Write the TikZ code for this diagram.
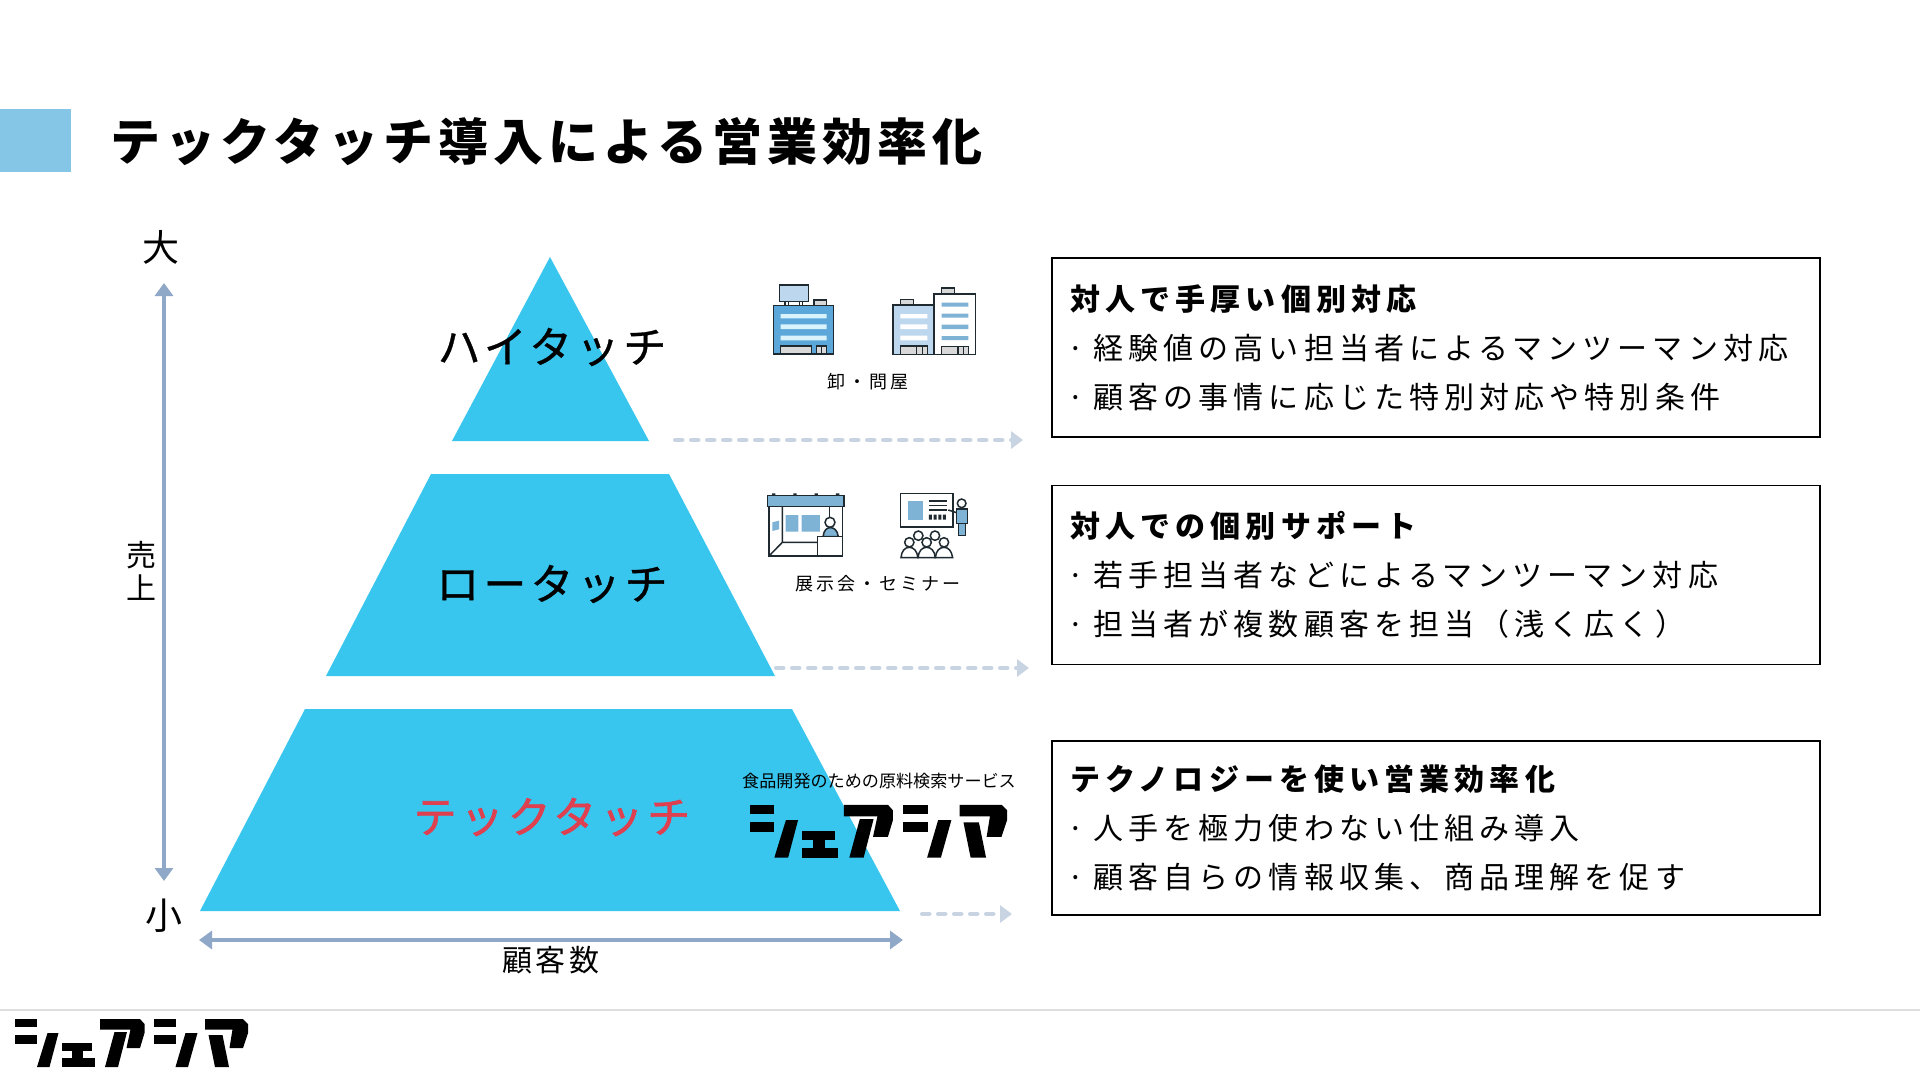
\documentclass[tikz,border=0pt]{standalone}
\usepackage{fontspec}
\usetikzlibrary{arrows.meta}
\setmainfont{Noto Sans CJK JP}
\newcommand{\lsp}[1]{\addfontfeature{LetterSpace=#1}}
\newcommand{\bul}{\makebox[10pt][c]{·}\hspace{13pt}}
\definecolor{pyrblue}{HTML}{38C6EF}
\definecolor{sqblue}{HTML}{85C5E6}
\definecolor{axisc}{HTML}{8FA8C8}
\definecolor{dashc}{HTML}{C9D4E3}
\definecolor{techred}{HTML}{DF4050}
\definecolor{icblue}{HTML}{5BA7D9}
\definecolor{icmid}{HTML}{7FB3D5}
\definecolor{iclight}{HTML}{BDD7EE}
\definecolor{icgray}{HTML}{D8D8D8}
\definecolor{icline}{HTML}{1E2A30}
\newcommand{\logoshape}{%
  \fill (15,1019) rectangle (37,1027);
  \fill (15,1035) rectangle (37,1044);
  \fill (47.5,1033) -- (58.5,1033) -- (49.5,1067) -- (37,1067) -- cycle;
  \fill (62,1043) rectangle (92,1051);
  \fill (72,1051) rectangle (83,1058);
  \fill (62,1058) rectangle (95,1067);
  \fill (100,1019) -- (140,1019) -- (144.5,1024) -- (144.5,1033) -- (140,1048) -- (126.5,1048) -- (130.5,1029.5) -- (100,1029.5) -- cycle;
  \fill (114.5,1032) -- (127,1032) -- (118,1067) -- (105,1067) -- cycle;
  \fill (154,1019) rectangle (176,1027);
  \fill (154,1035) rectangle (176,1044);
  \fill (185.5,1033) -- (197.5,1033) -- (188,1067) -- (175.5,1067) -- cycle;
  \fill (205,1019) -- (243,1019) -- (248,1024) -- (248,1033) -- (243,1048) -- (229.5,1048) -- (232.5,1029.5) -- (205,1029.5) -- cycle;
  \fill (208.5,1035) -- (222.5,1035) -- (229,1067) -- (215,1067) -- cycle;
}
\tikzset{
  pyr/.style={fill=pyrblue},
  infobox/.style={draw=black,line width=1.4pt,minimum width=768pt,text width=731pt,inner xsep=18.5pt,align=left,font={\fontsize{30}{49}\selectfont\lsp{17}}},
  tierlabel/.style={font={\fontsize{43}{48}\selectfont\addfontfeature{LetterSpace=9.5,FakeBold=0.7}}},
  techlabel/.style={font={\fontsize{43}{48}\selectfont\addfontfeature{LetterSpace=9.5,FakeBold=1.6}}},
  caption/.style={font={\fontsize{18}{22}\selectfont\lsp{17}}},
  axislabel/.style={font={\fontsize{37}{44}\selectfont}},
  axisarrow/.style={draw=axisc,line width=4.5pt,{Triangle[length=13pt,width=18pt]}-{Triangle[length=13pt,width=18pt]}},
  dasharrow/.style={draw=dashc,line width=4pt,line cap=round,dash pattern=on 7.5pt off 8.5pt,-{Triangle[length=12pt,width=17pt]}},
  ic/.style={draw=icline,line width=1.5pt},
}
\begin{document}
\begin{tikzpicture}[x=1pt,y=-1pt]
\useasboundingbox (0,0) rectangle (1920,1080);
\fill[white] (0,0) rectangle (1920,1080);
% header
\fill[sqblue] (0,109) rectangle (71,172);
\node[anchor=west,inner sep=0pt,font={\fontsize{50}{60}\selectfont\bfseries\lsp{10}}] (title) at (110.5,142) {テックタッチ導入による営業効率化};
% pyramid
\fill[pyr] (550,257) -- (649,441) -- (452,441) -- cycle;
\fill[pyr] (431,474) -- (669,474) -- (775,676) -- (326,676) -- cycle;
\fill[pyr] (305,709) -- (792,709) -- (900,911) -- (200,911) -- cycle;
\node[tierlabel] (hi) at (552,347) {ハイタッチ};
\node[tierlabel] (lo) at (552,584) {ロータッチ};
\node[techlabel,text=techred] (tech) at (552,817) {テックタッチ};
% axes
\coordinate (ytop) at (164,283);
\coordinate (ybot) at (164,881);
\coordinate (xl) at (199,940);
\coordinate (xr) at (903,940);
\draw[axisarrow] (ytop) -- (ybot);
\draw[axisarrow] (xl) -- (xr);
\node[axislabel] (big) at (161,247) {大};
\node[axislabel] (small) at (164,916) {小};
\node[font={\fontsize{30}{33}\selectfont},align=center] (sales) at (141,571) {売\\上};
\node[font={\fontsize{30}{36}\selectfont\lsp{11}}] (cust) at (551,960) {顧客数};
% dashed arrows
\coordinate (d1a) at (675,440);
\coordinate (d1b) at (1023,440);
\coordinate (d2a) at (776,668);
\coordinate (d2b) at (1029,668);
\coordinate (d3a) at (922,914);
\coordinate (d3b) at (1012,914);
\draw[dasharrow] (d1a) -- (d1b);
\draw[dasharrow] (d2a) -- (d2b);
\draw[dasharrow] (d3a) -- (d3b);
% boxes
\node[infobox,minimum height=179pt] (b1) at (1436,347.5) {\textbf{対人で手厚い個別対応}\\\bul 経験値の高い担当者によるマンツーマン対応\\\bul 顧客の事情に応じた特別対応や特別条件};
\node[infobox,minimum height=179pt] (b2) at (1436,575) {\textbf{対人での個別サポート}\\\bul 若手担当者などによるマンツーマン対応\\\bul 担当者が複数顧客を担当（浅く広く）};
\node[infobox,minimum height=174pt] (b3) at (1436,828) {\textbf{テクノロジーを使い営業効率化}\\\bul 人手を極力使わない仕組み導入\\\bul 顧客自らの情報収集、商品理解を促す};
% captions
\node[caption] (c1) at (868,382) {卸・問屋};
\node[caption] (c2) at (878,584) {展示会・セミナー};
\node[font={\fontsize{17.1}{20}\selectfont}] (c3) at (879,781) {食品開発のための原料検索サービス};
% building icons
\begin{scope}[shift={(720,260)},x=0.3333pt,y=-0.3333pt]
  \filldraw[ic,fill=iclight] (178,75) rectangle (265,125);
  \draw[ic] (195,125) -- (195,137) (205,125) -- (205,137) (238,125) -- (238,137) (248,125) -- (248,137);
  \filldraw[ic,fill=icgray] (282,120) rectangle (320,137);
  \filldraw[ic,fill=icblue] (160,137) rectangle (341,282);
  \fill[white!85!cyan] (182,162) rectangle (320,175) (182,193) rectangle (320,207) (182,227) rectangle (320,241);
  \filldraw[ic,fill=icgray] (182,258) rectangle (275,282);
  \filldraw[ic,fill=icgray] (290,258) rectangle (320,282);
  \draw[ic] (305,258) -- (305,282);
  \filldraw[ic,fill=icgray] (541,118) rectangle (580,135);
  \filldraw[ic,fill=iclight] (519,135) rectangle (642,283);
  \fill[white] (541,162) rectangle (622,175) (541,193) rectangle (622,207) (541,227) rectangle (622,241);
  \filldraw[ic,fill=icgray] (541,258) rectangle (623,283);
  \draw[ic] (590,258) -- (590,283) (607,258) -- (607,283);
  \filldraw[ic,fill=icgray] (665,84) rectangle (704,102);
  \filldraw[ic,fill=white] (642,102) rectangle (767,283);
  \fill[icmid] (665,128) rectangle (745,140) (665,161) rectangle (745,173) (665,194) rectangle (745,207) (665,228) rectangle (745,240);
  \filldraw[ic,fill=icgray] (665,260) rectangle (745,283);
  \draw[ic] (714,260) -- (714,283) (730,260) -- (730,283);
\end{scope}
% booth and seminar icons
\begin{scope}[shift={(720,470)},x=0.3333pt,y=-0.3333pt]
  \fill[icline] (156,70) rectangle (166,76) (220,70) rectangle (230,76) (284,70) rectangle (294,76) (348,70) rectangle (358,76);
  \draw[ic] (147,110) -- (147,258) -- (367,258) -- (367,110);
  \draw[ic] (187,110) -- (187,217) -- (293,217) (147,258) -- (187,217);
  \fill[icmid] (197,135) rectangle (235,185) (245,135) rectangle (300,185);
  \fill[icmid] (157,157) -- (177,152) -- (177,178) -- (157,183) -- cycle;
  \filldraw[ic,fill=icmid] (142,76) rectangle (372,110);
  \draw[ic] (328,110) -- (328,142);
  \filldraw[ic,fill=white] (330,157) circle[radius=15];
  \filldraw[ic,fill=icmid] (309,200) .. controls (312,180) and (320,173) .. (331,173) .. controls (342,173) and (352,180) .. (355,200) -- cycle;
  \filldraw[ic,fill=white] (293,200) rectangle (367,258);
  % seminar
  \filldraw[ic,fill=white] (541,70) rectangle (699,171);
  \fill[icmid] (564,93) rectangle (610,149);
  \draw[ic] (627,93) -- (680,93) (627,107) -- (680,107) (627,120) -- (680,120);
  \fill[icline] (627,134) rectangle (636,149) (641,134) rectangle (650,149) (655,134) rectangle (664,149) (669,134) rectangle (678,149);
  \draw[ic] (685,120) -- (710,128);
  \filldraw[ic,fill=white] (725,100) circle[radius=13];
  \filldraw[ic,fill=icmid] (709,117) rectangle (742,160);
  \filldraw[ic,fill=icmid] (716,160) rectangle (736,197);
  \filldraw[ic,fill=white] (595,197) circle[radius=14];
  \filldraw[ic,fill=white] (645,197) circle[radius=14];
  \filldraw[ic,fill=white] (568,217) circle[radius=14];
  \filldraw[ic,fill=white] (620,217) circle[radius=14];
  \filldraw[ic,fill=white] (672,217) circle[radius=14];
  \filldraw[ic,fill=white] (543,263) .. controls (545,242) and (555,232) .. (568,232) .. controls (581,232) and (591,242) .. (594,263) -- cycle;
  \filldraw[ic,fill=white] (594,263) .. controls (596,242) and (607,232) .. (620,232) .. controls (633,232) and (644,242) .. (646,263) -- cycle;
  \filldraw[ic,fill=white] (646,263) .. controls (648,242) and (659,232) .. (672,232) .. controls (685,232) and (695,242) .. (698,263) -- cycle;
\end{scope}
% logos
\begin{scope}[shift={(733.5,-319.2)},x=1.103pt,y=-1.103pt]
  \logoshape
\end{scope}
\logoshape
% footer rule
\coordinate (fl) at (0,1010);
\coordinate (fr) at (1920,1010);
\draw[color=black!13,line width=1.5pt] (fl) -- (fr);
\end{tikzpicture}
\end{document}
